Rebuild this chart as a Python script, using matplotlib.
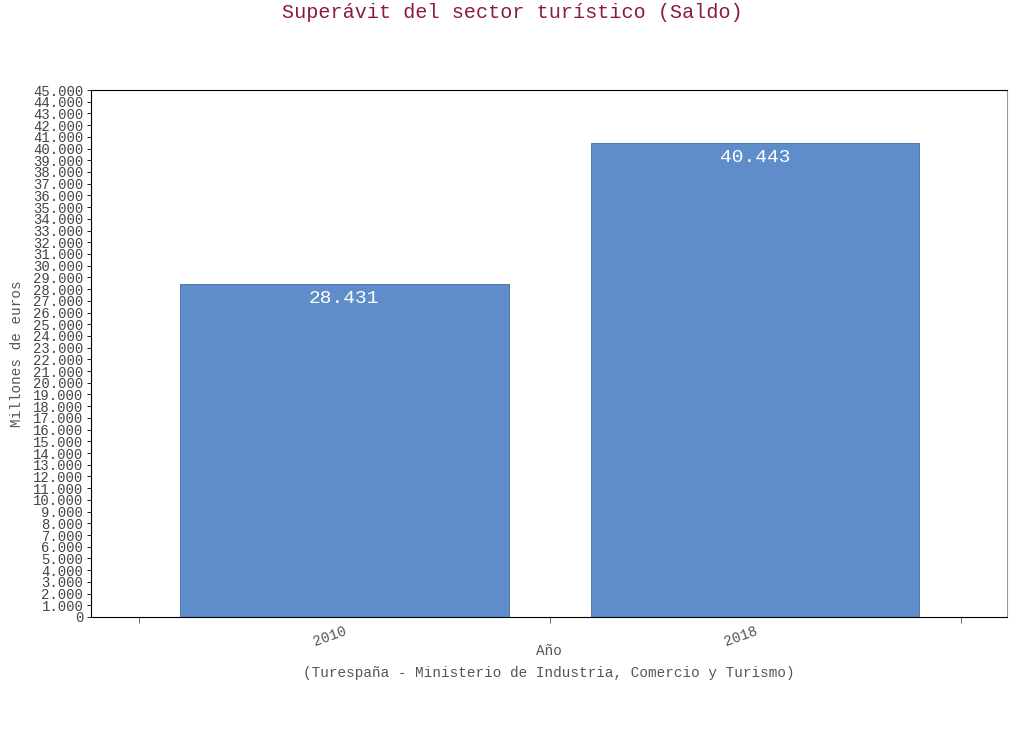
import matplotlib.pyplot as plt
from matplotlib.ticker import FuncFormatter, FixedLocator

years = ['2010', '2018']
saldo = [28431, 40443]
title = 'Superávit del sector turístico (Saldo)'
source = '(Turespaña - Ministerio de Industria, Comercio y Turismo)'

plt.rcParams['font.family'] = ['Liberation Mono', 'DejaVu Sans Mono']

fig = plt.figure(figsize=(10.24, 7.52), dpi=100)
ax = fig.add_axes([91 / 1024, 1 - 617 / 752, 916 / 1024, 527 / 752])

x = list(range(len(years)))
bars = ax.bar(x, saldo, width=0.8, color='#5f8dc9', edgecolor='#3f6a9e', linewidth=0.6)

def miles(v, pos=None):
    return f'{int(round(v)):,}'.replace(',', '.')

# etiquetas dentro de la barra
for xi, v in zip(x, saldo):
    ax.annotate(miles(v), (xi, v), xytext=(0, -4), textcoords='offset points',
                ha='center', va='top', color='white', fontsize=14)

ax.set_xlim(-0.616, 1.613)
ax.set_ylim(0, 45000)
ax.yaxis.set_major_locator(FixedLocator(range(0, 45001, 1000)))
ax.yaxis.set_major_formatter(FuncFormatter(miles))
ax.tick_params(axis='y', labelsize=10, labelcolor='#444444', length=3, width=0.6, pad=2.5)

ax.set_xticks(x)
ax.set_xticklabels(years, rotation=20, ha='right', rotation_mode='anchor')
ax.set_xticks([-0.5, 0.5, 1.5], minor=True)
ax.tick_params(axis='x', which='major', length=0, labelsize=10.4, labelcolor='#555555', pad=5)
ax.tick_params(axis='x', which='minor', length=4, width=0.6, color='#555555')

for s in ['left', 'bottom', 'top']:
    ax.spines[s].set_color('black')
    ax.spines[s].set_linewidth(0.8)
ax.spines['right'].set_color('#999999')

ax.set_xlabel('Año', fontsize=10.4, color='#555555')
ax.xaxis.set_label_coords(0.5, -0.052)
ax.set_ylabel('Millones de euros', fontsize=10.4, color='#555555')
ax.yaxis.set_label_coords(-0.073, 0.5)

fig.text(549 / 1024, 1 - 673 / 752, source, ha='center', va='center', fontsize=10.4, color='#555555')
fig.text(0.5, 1 - 13 / 752, title, ha='center', va='center', fontsize=14.5, color='#8b1a3a')

fig.savefig('out.png', dpi=100)
